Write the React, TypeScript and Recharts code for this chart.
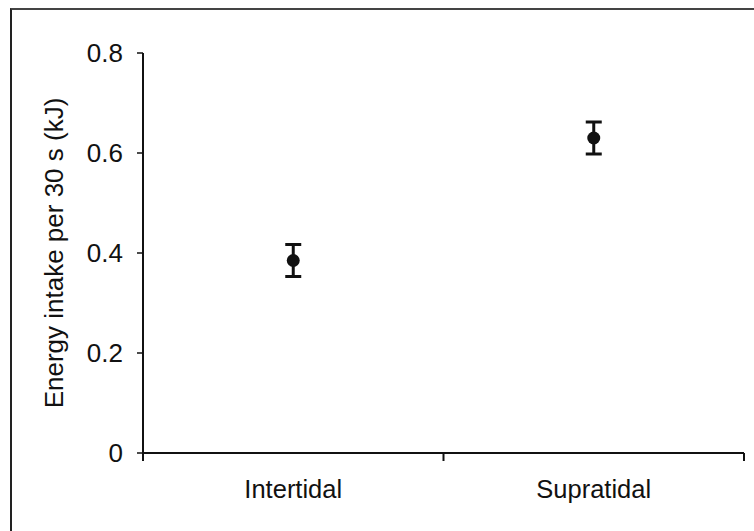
import React from 'react';
import { ComposedChart, Scatter, ErrorBar, XAxis, YAxis } from 'recharts';

const categories = ['Intertidal', 'Supratidal'];
const means = [0.385, 0.63];
const errors = [0.032, 0.032];
const yTicks = [0, 0.2, 0.4, 0.6, 0.8];
const yLabel = 'Energy intake per 30 s (kJ)';

const FONT = '"Liberation Sans", Arial, sans-serif';
const INK = '#111';

// points sit in the middle of each category band
const chartData = categories.map((name, i) => ({
  name,
  x: i + 0.5,
  mean: means[i],
  err: errors[i],
}));

const xTicks = [0, 0.5, 1, 1.5, 2];

const XTick = (props: any) => {
  const { x, y, payload } = props;
  const v = payload.value as number;
  if (Number.isInteger(v)) {
    // band boundary: tick mark only
    return <line x1={x} y1={y - 8} x2={x} y2={y} stroke={INK} strokeWidth={2} />;
  }
  const label = categories[Math.floor(v)];
  return (
    <text x={x} y={y + 19} dy="0.71em" textAnchor="middle" fontFamily={FONT} fontSize={25.5} fill={INK}>
      {label}
    </text>
  );
};

const YLabel = (props: any) => {
  const { viewBox } = props;
  const cx = viewBox.x + 54;
  const cy = viewBox.y + viewBox.height / 2;
  return (
    <text
      x={cx}
      y={cy}
      transform={`rotate(-90, ${cx}, ${cy})`}
      textAnchor="middle"
      dominantBaseline="central"
      fontFamily={FONT}
      fontSize={26}
      fill={INK}
    >
      {yLabel}
    </text>
  );
};

const Dot = (props: any) => <circle cx={props.cx} cy={props.cy} r={6.5} fill={INK} />;

export default function App() {
  return (
    <div style={{ position: 'absolute', left: 0, top: 0, width: 754, height: 531, overflow: 'hidden', background: '#fff' }}>
      <div
        style={{
          position: 'absolute',
          left: 10,
          top: 8,
          width: 780,
          height: 560,
          borderLeft: '2px solid #222',
          borderTop: '2px solid #444',
        }}
      />
      <ComposedChart
        width={754}
        height={531}
        data={chartData}
        margin={{ top: 53, right: 10, bottom: 0, left: 0 }}
        style={{ position: 'absolute', left: 0, top: 0 }}
      >
        <XAxis
          dataKey="x"
          type="number"
          domain={[0, 2]}
          ticks={xTicks}
          interval={0}
          height={78}
          tickSize={8}
          tickMargin={0}
          tickLine={false}
          tick={<XTick />}
          axisLine={{ stroke: INK, strokeWidth: 2 }}
        />
        <YAxis
          type="number"
          domain={[0, 0.8]}
          ticks={yTicks}
          interval={0}
          width={143}
          tickSize={6}
          tickMargin={14}
          tickFormatter={(v: number) => (v === 0 ? '0' : v.toFixed(1))}
          tick={{ fill: INK, fontSize: 26, fontFamily: FONT }}
          tickLine={{ stroke: INK, strokeWidth: 1.5 }}
          axisLine={{ stroke: INK, strokeWidth: 2 }}
          label={<YLabel />}
        />
        <Scatter dataKey="mean" fill={INK} shape={<Dot />} isAnimationActive={false}>
          <ErrorBar dataKey="err" direction="y" width={8} stroke={INK} strokeWidth={3} isAnimationActive={false} />
        </Scatter>
      </ComposedChart>
    </div>
  );
}
